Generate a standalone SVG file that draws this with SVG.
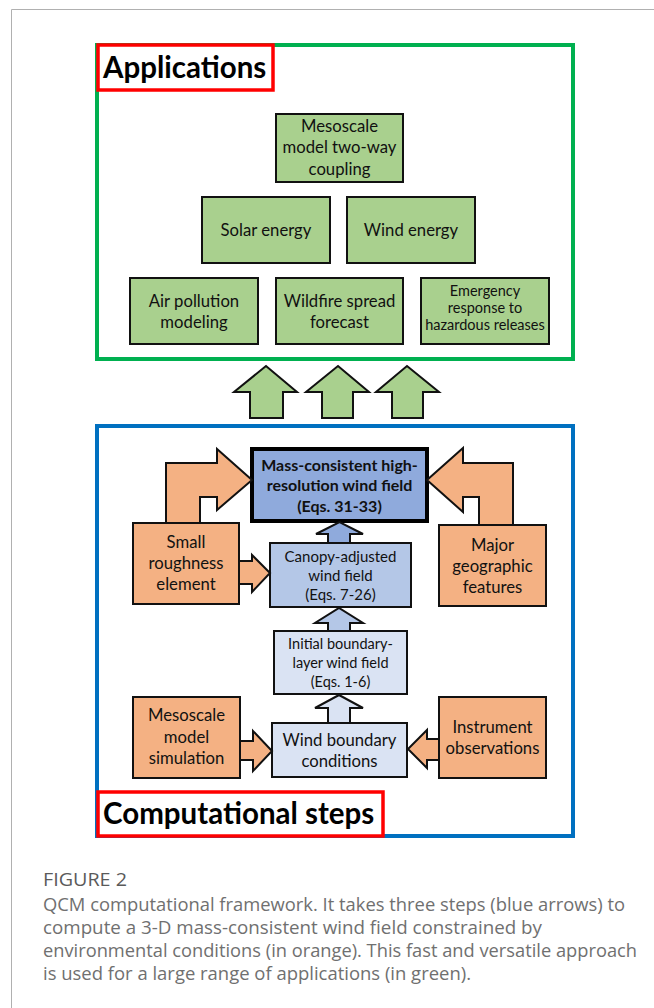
<svg xmlns="http://www.w3.org/2000/svg" width="654" height="1008" viewBox="0 0 654 1008">
<style>
.t{font-family:Lato,"Liberation Sans",sans-serif;font-size:16.7px;fill:#111;text-anchor:middle}
.s{font-size:14.5px}
.c{font-size:15px}
.b{font-weight:bold;font-size:16px}
.g{fill:#a9d08e;stroke:#111;stroke-width:2}
.o{fill:#f4b183;stroke:#111;stroke-width:2}
.l{fill:#dae3f3;stroke:#111;stroke-width:2}
.m{fill:#b4c7e7;stroke:#111;stroke-width:2}
.d{fill:#8faadc;stroke:#111;stroke-width:2}
.ttl{font-family:Lato,"Liberation Sans",sans-serif;font-size:29.5px;font-weight:bold;fill:#000}
.cap{font-family:"Open Sans","Liberation Sans",sans-serif;font-size:18px;fill:#707070}
</style>
<rect width="654" height="1008" fill="#fff"/>
<path d="M11.5,1008 V9.5 H654" fill="none" stroke="#b0b0b0" stroke-width="1"/>

<g id="applications-frame">
<rect x="97" y="45" width="476" height="314" fill="none" stroke="#00b050" stroke-width="4"/>
<rect x="98" y="45" width="175" height="45" fill="#fff" stroke="#ff0000" stroke-width="3.5"/>
<text class="ttl" x="103" y="78">Applications</text>
</g>

<g id="n-mesoscale-coupling"><rect class="g" x="276" y="114" width="127" height="68"/>
<text class="t" x="339.5" y="132">Mesoscale</text><text class="t" x="339.5" y="153">model two-way</text><text class="t" x="339.5" y="175">coupling</text></g>
<g id="n-solar"><rect class="g" x="202" y="197" width="128" height="66"/><text class="t" x="266" y="236">Solar energy</text></g>
<g id="n-wind"><rect class="g" x="347" y="197" width="128" height="66"/><text class="t" x="411" y="236">Wind energy</text></g>
<g id="n-air"><rect class="g" x="130" y="278" width="128" height="66"/><text class="t" x="194" y="307">Air pollution</text><text class="t" x="194" y="328">modeling</text></g>
<g id="n-wildfire"><rect class="g" x="276" y="278" width="127" height="66"/><text class="t" x="339.5" y="307">Wildfire spread</text><text class="t" x="339.5" y="328">forecast</text></g>
<g id="n-emergency"><rect class="g" x="421" y="278" width="128" height="66"/><text class="t s" x="485" y="296">Emergency</text><text class="t s" x="485" y="313">response to</text><text class="t s" x="485" y="330">hazardous releases</text></g>

<g id="computational-frame">
<rect x="97" y="426" width="476" height="410" fill="none" stroke="#0070c0" stroke-width="4"/>
</g>

<g id="n-mass"><rect x="252" y="449" width="175" height="72" fill="#8faadc" stroke="#000" stroke-width="4"/>
<text class="t b" x="339.5" y="471">Mass-consistent high-</text><text class="t b" x="339.5" y="491">resolution wind field</text><text class="t b" x="339.5" y="512">(Eqs. 31-33)</text></g>
<g id="n-canopy"><rect class="m" x="270" y="543" width="141" height="64"/>
<text class="t c" x="340.5" y="562">Canopy-adjusted</text><text class="t c" x="340.5" y="581">wind field</text><text class="t c" x="340.5" y="600">(Eqs. 7-26)</text></g>
<g id="n-initial"><rect class="l" x="274" y="631" width="133" height="63"/>
<text class="t s" x="340.5" y="649">Initial boundary-</text><text class="t s" x="340.5" y="668">layer wind field</text><text class="t s" x="340.5" y="687">(Eqs. 1-6)</text></g>
<g id="n-wbc"><rect class="l" x="272" y="723" width="135" height="54"/>
<text class="t" x="339.5" y="746">Wind boundary</text><text class="t" x="339.5" y="767">conditions</text></g>
<g id="n-small"><rect class="o" x="133" y="523" width="106" height="81"/>
<text class="t" x="186" y="548">Small</text><text class="t" x="186" y="569">roughness</text><text class="t" x="186" y="590">element</text></g>
<g id="n-major"><rect class="o" x="439" y="525" width="107" height="81"/>
<text class="t" x="492.5" y="551">Major</text><text class="t" x="492.5" y="572">geographic</text><text class="t" x="492.5" y="593">features</text></g>
<g id="n-meso-sim"><rect class="o" x="133" y="697" width="107" height="81"/>
<text class="t" x="186.5" y="721">Mesoscale</text><text class="t" x="186.5" y="743">model</text><text class="t" x="186.5" y="764">simulation</text></g>
<g id="n-instrument"><rect class="o" x="439" y="697" width="107" height="81"/>
<text class="t" x="492.5" y="733">Instrument</text><text class="t" x="492.5" y="754">observations</text></g>

<g id="title-computational">
<rect x="98" y="792" width="285" height="44" fill="#fff" stroke="#ff0000" stroke-width="3.5"/>
<text class="ttl" x="103" y="824">Computational steps</text>
</g>

<g id="connectors">
<path class="g" d="M250,418 V392 H234 L266,366 L297,392 H283 V418 Z"/>
<path class="g" d="M322,418 V392 H306 L338,366 L369,392 H353 V418 Z"/>
<path class="g" d="M392,418 V392 H376 L407,366 L439,392 H423 V418 Z"/>
<path class="o" d="M166,523 V463 H217 V449 L252,480 L217,510 V497 H200 V523 Z"/>
<path class="o" d="M513,525 V463 H463 V448 L427,480 L463,512 V497 H479 V525 Z"/>
<path class="o" d="M239,561 H252 V555 L270,573 L252,592 V584 H239 Z"/>
<path class="o" d="M240,741 H253 V731 L272,751 L253,771 V760 H240 Z"/>
<path class="o" d="M439,739 H427 V730 L408,749 L427,768 V760 H439 Z"/>
<path class="d" d="M328,543 V534 H316 L339.5,522 L363,534 H350 V543 Z"/>
<path class="m" d="M328,631 V623 H315 L339,608 L363,623 H350 V631 Z"/>
<path class="l" d="M328,723 V708 H315 L339,695 L363,708 H350 V723 Z"/>
</g>

<g id="caption">
<text class="cap" x="43" y="886" style="fill:#5a5a5a" textLength="84" lengthAdjust="spacingAndGlyphs">FIGURE 2</text>
<text class="cap" x="43" y="911" textLength="582" lengthAdjust="spacingAndGlyphs">QCM computational framework. It takes three steps (blue arrows) to</text>
<text class="cap" x="43" y="934" textLength="499" lengthAdjust="spacingAndGlyphs">compute a 3-D mass-consistent wind field constrained by</text>
<text class="cap" x="43" y="957" textLength="594" lengthAdjust="spacingAndGlyphs">environmental conditions (in orange). This fast and versatile approach</text>
<text class="cap" x="43" y="980" textLength="428" lengthAdjust="spacingAndGlyphs">is used for a large range of applications (in green).</text>
</g>
</svg>
